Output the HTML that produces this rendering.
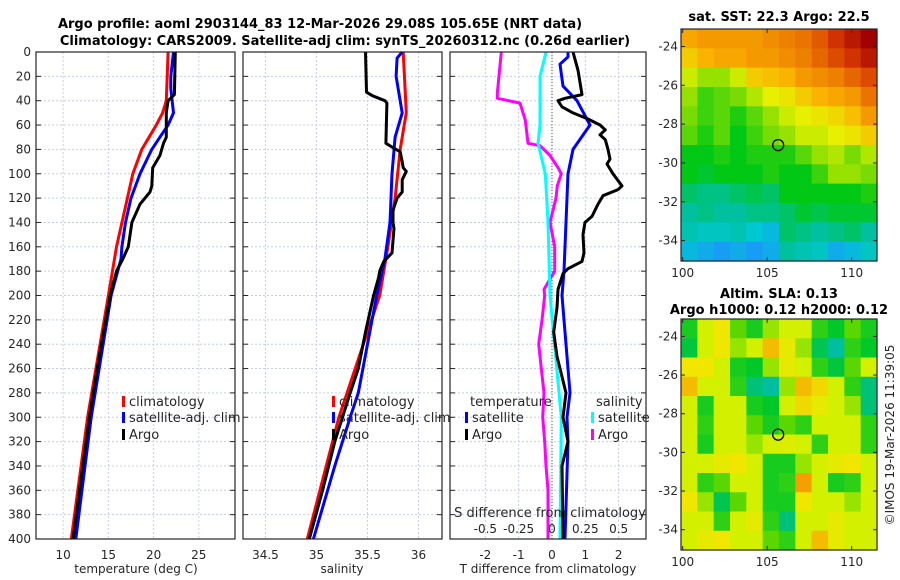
<!DOCTYPE html>
<html><head><meta charset="utf-8">
<style>
body{margin:0;background:#fff;}
svg{display:block;font-family:"DejaVu Sans","Liberation Sans",sans-serif;}
.tk{font-size:12px;fill:#262626;}
.lg{font-size:13px;fill:#262626;}
.tt{font-size:13px;font-weight:bold;fill:#000;}
</style></head>
<body>
<svg id="c" width="900" height="580" viewBox="0 0 900 580">
<text class="tt" x="320" y="28" text-anchor="middle">Argo profile: aoml 2903144_83 12-Mar-2026 29.08S 105.65E (NRT data)</text>
<text class="tt" x="345" y="45" text-anchor="middle">Climatology: CARS2009. Satellite-adj clim: synTS_20260312.nc (0.26d earlier)</text>
<text class="tt" x="779" y="21" text-anchor="middle">sat. SST: 22.3 Argo: 22.5</text>
<text class="tt" x="779" y="298" text-anchor="middle">Altim. SLA: 0.13</text>
<text class="tt" x="779" y="314" text-anchor="middle">Argo h1000: 0.12 h2000: 0.12</text>
<text class="tk" transform="translate(894,435) rotate(-90)" text-anchor="middle">©IMOS 19-Mar-2026 11:39:05</text>
</svg>
<script>
// ---- profile data (depth in m) ----
const tClimDepth=[0,40,50,60,80,100,120,160,200,300,400];
const tClimVal=[21.6,21.4,21.0,20.3,18.7,17.7,17.1,15.9,15.0,12.7,10.9];
const tSatDepth=[0,20,30,50,60,70,80,100,120,140,160,170,200,300,400];
const tSatVal=[22.2,21.9,21.9,22.2,21.6,20.7,19.8,18.5,17.5,16.9,16.5,16.4,15.3,13.1,11.4];
const tArgoDepth=[0,35,40,50,70,75,85,95,110,115,125,140,160,170,180,200,250,300,350,400];
const tArgoVal=[22.4,22.3,21.6,21.4,21.4,21.1,20.7,19.9,19.8,19.6,18.5,17.6,17.2,16.6,15.9,15.2,14.0,12.9,12.0,11.1];
const sClimDepth=[0,50,60,80,120,160,200,300,400];
const sClimVal=[35.85,35.88,35.86,35.82,35.77,35.70,35.62,35.22,34.91];
const sSatDepth=[0,5,20,50,70,100,140,170,200,280,300,340,400];
const sSatVal=[35.84,35.79,35.78,35.84,35.77,35.74,35.72,35.67,35.59,35.41,35.33,35.18,34.97];
const sArgoDepth=[0,33,36,40,42,75,78,82,90,95,98,105,115,120,130,140,145,165,172,180,185,200,230,260,280,320,360,400];
const sArgoVal=[35.48,35.49,35.55,35.67,35.69,35.68,35.74,35.82,35.84,35.85,35.88,35.84,35.84,35.79,35.75,35.75,35.76,35.74,35.66,35.62,35.61,35.56,35.48,35.41,35.33,35.18,35.06,34.93];
const dTSatDepth=[0,4,10,28,40,60,80,100,120,140,160,180,200,260,280,300,320,400];
const dTSatVal=[0.48,0.48,0.24,0.33,0.75,1.14,0.63,0.48,0.45,0.42,0.39,0.36,0.30,0.48,0.54,0.45,0.48,0.39];
const dTArgoDepth=[0,15,35,38,40,45,50,55,60,64,68,72,80,88,92,100,110,113,118,125,135,140,150,165,172,178,182,195,210,230,250,280,300,320,340,400];
const dTArgoVal=[0.63,0.78,0.9,0.39,0.18,0.3,0.63,1.08,1.44,1.6,1.44,1.6,1.68,1.74,1.65,1.83,2.1,1.98,1.53,1.38,1.2,0.99,0.93,0.96,0.9,0.48,0.33,0.18,0.15,0.05,0.15,0.42,0.33,0.48,0.3,0.33];
const dSSatDepth=[0,20,60,75,100,140,200,300,400];
const dSSatVal=[-0.045,-0.09,-0.09,-0.105,-0.05,-0.03,-0.015,0.07,0.06];
const dSArgoDepth=[0,34,38,42,56,75,77,85,95,100,110,120,140,160,180,195,200,220,240,260,280,300,320,340,360,400];
const dSArgoVal=[-0.38,-0.41,-0.41,-0.24,-0.2,-0.18,-0.09,-0.015,0.045,0.07,0.04,0.03,-0.015,0.02,0.02,-0.06,-0.055,-0.075,-0.1,-0.08,-0.06,-0.07,-0.055,-0.045,-0.03,-0.03];
// ---- map data ----
const sstGrid=[
[22.9,23,23,23,23,23.1,23.2,23.3,23.5,23.8,24,24.2],
[22.6,22.8,22.9,22.9,23,23,23.1,23.2,23.4,23.6,23.8,24],
[22.2,22,22,22.2,22.6,22.7,22.8,23,23.1,23.2,23.4,23.6],
[22,21.7,21.8,21.9,22.1,22.3,22.4,22.6,22.8,22.9,23,23.3],
[21.9,21.7,21.8,21.6,21.8,22.0,22.2,22.3,22.4,22.5,22.7,23],
[21.8,21.6,21.8,21.5,21.7,21.9,22.0,22.2,22.2,22.3,22.4,22.6],
[21.5,21.5,21.6,21.5,21.6,21.6,21.6,21.8,22.0,22.1,21.9,22.1],
[21.5,21.4,21.5,21.5,21.5,21.6,21.5,21.5,21.7,22.0,22.0,21.9],
[21.2,21.1,21.1,21.2,21.3,21.2,21.5,21.5,21.5,21.5,21.5,21.6],
[21.0,21.1,21.0,21.0,21.1,21.1,21.2,21.4,21.3,21.4,21.4,21.4],
[20.9,20.8,20.8,20.9,20.7,20.6,21.2,21.1,21.0,21.1,21.2,21.0],
[20.6,20.5,20.4,20.5,20.4,20.5,21.0,20.9,20.8,20.5,20.6,20.8]];
const slaGrid=[
[0.05,0.12,0.15,0.08,0.05,0.1,0.12,0.12,0.06,0.04,0.08,0.05],
[0.03,0.12,0.15,0.1,0.12,0.18,0.14,0.1,0.02,-0.02,0.06,0.04],
[0.15,0.15,0.12,0.05,0.04,0.1,0.14,0.12,0.06,0.03,0.08,0.12],
[0.18,0.12,0.12,0.06,0.0,-0.02,0.1,0.18,0.16,0.12,0.06,0.0],
[0.12,0.05,0.12,0.12,0.05,0.04,0.12,0.16,0.14,0.12,0.1,0.0],
[0.12,0.06,0.12,0.12,0.08,0.05,0.08,0.06,0.12,0.12,0.12,0.06],
[0.12,0.05,0.12,0.12,0.1,0.12,0.13,0.12,0.06,0.12,0.12,0.06],
[0.12,0.12,0.14,0.15,0.12,0.05,0.05,0.1,0.12,0.14,0.15,0.12],
[0.12,0.06,0.08,0.12,0.12,0.05,0.06,0.2,0.12,0.05,0.06,0.12],
[0.15,0.1,0.02,0.08,0.12,0.05,0.05,0.15,0.12,0.12,0.1,0.12],
[0.12,0.12,0.06,0.12,0.14,0.06,0.0,0.12,0.12,0.14,0.12,0.12],
[0.12,0.14,0.15,0.12,0.12,0.08,0.06,0.12,0.18,0.14,0.12,0.12]];
const floatLon=105.65, floatLat=-29.08;
const depthTicks=[0,20,40,60,80,100,120,140,160,180,200,220,240,260,280,300,320,340,360,380,400];
const tTicks=[10,15,20,25], sTicks=[34.5,35,35.5,36], dTTicks=[-2,-1,0,1,2], dSTicks=[-0.5,-0.25,0,0.25,0.5];
const dSTickLabels=["-0.5","-0.25","0","0.25","0.5"];
const lonTicks=[100,105,110], latTicks=[-24,-26,-28,-30,-32,-34];

const NS="http://www.w3.org/2000/svg", svg=document.getElementById('c');
function mk(tag,at,parent){const e=document.createElementNS(NS,tag);for(const k in at)e.setAttribute(k,at[k]);(parent||svg).appendChild(e);return e;}
const Y0=52,Y1=539;
const yD=d=>Y0+(Y1-Y0)*d/400;
function panel(x0,x1,vmin,vmax,ticks,name){
  const xf=v=>x0+(x1-x0)*(v-vmin)/(vmax-vmin);
  const g=mk('g',{});
  
  
  ticks.forEach(t=>{const l=mk('line',{x1:xf(t),x2:xf(t),y1:Y0,y2:Y1,stroke:'#c8cde6','stroke-width':1,'stroke-dasharray':'2,2'},g);
    });
  depthTicks.forEach(d=>{const l=mk('line',{x1:x0,x2:x1,y1:yD(d),y2:yD(d),stroke:'#c8cde6','stroke-width':1,'stroke-dasharray':'2,2'},g);
    
    mk('line',{x1:x0,x2:x0+5,y1:yD(d),y2:yD(d),stroke:'#262626'},g);mk('line',{x1:x1-5,x2:x1,y1:yD(d),y2:yD(d),stroke:'#262626'},g);});
  return {xf,g};
}
function line(p,ds,vs,color,name){
  const pts=ds.map((d,i)=>p.xf(vs[i]).toFixed(1)+','+yD(d).toFixed(1)).join(' ');
  const e=mk('polyline',{points:pts,fill:'none',stroke:color,'stroke-width':3,'stroke-linejoin':'round'},p.g);
  
  
}
function frame(x0,x1,name){const r=mk('rect',{x:x0,y:Y0,width:x1-x0,height:Y1-Y0,fill:'none',stroke:'#262626','stroke-width':1.2});
  }
function txt(x,y,s,cls,anchor,name){const t=mk('text',{x,y,class:cls,'text-anchor':anchor||'middle'});t.textContent=s;
  return t;}

const p1=panel(36,235,7,29,tTicks,'temperature-panel');
line(p1,tClimDepth,tClimVal,'#ff0000','temp-climatology-line');
line(p1,tSatDepth,tSatVal,'#0000ff','temp-satellite-line');
line(p1,tArgoDepth,tArgoVal,'#000000','temp-argo-line');
frame(36,235,'temperature-axes');
depthTicks.forEach(d=>txt(31,yD(d)+4,String(d),'tk','end','depth-tick-label'));
tTicks.forEach(t=>txt(p1.xf(t),559,String(t),'tk','middle','temp-tick-label'));
txt(136,573,'temperature (deg C)','tk','middle','temp-x-axis-title');

const p2=panel(243,442,34.28,36.23,sTicks,'salinity-panel');
line(p2,sClimDepth,sClimVal,'#ff0000','sal-climatology-line');
line(p2,sSatDepth,sSatVal,'#0000ff','sal-satellite-line');
line(p2,sArgoDepth,sArgoVal,'#000000','sal-argo-line');
frame(243,442,'salinity-axes');
sTicks.forEach(t=>txt(p2.xf(t),559,String(t),'tk','middle','sal-tick-label'));
txt(342,573,'salinity','tk','middle','sal-x-axis-title');

const p3=panel(450,646,-3.06,2.82,dTTicks,'difference-panel');
const p3s={xf:v=>p3.xf(v*4),g:p3.g};
mk('line',{x1:p3.xf(0),x2:p3.xf(0),y1:Y0,y2:Y1,stroke:'#555','stroke-dasharray':'1,2'},p3.g);
line(p3s,dSArgoDepth,dSArgoVal,'#ff00ff','dsal-argo-line');
line(p3s,dSSatDepth,dSSatVal,'#00ffff','dsal-satellite-line');
line(p3,dTSatDepth,dTSatVal,'#0000ff','dtemp-satellite-line');
line(p3,dTArgoDepth,dTArgoVal,'#000000','dtemp-argo-line');
frame(450,646,'difference-axes');
dTTicks.forEach(t=>txt(p3.xf(t),559,String(t),'tk','middle','dtemp-tick-label'));
dSTicks.forEach((t,i)=>txt(p3s.xf(t),533,dSTickLabels[i],'tk','middle','dsal-tick-label'));
txt(550,517,'S difference from climatology','lg','middle','dsal-axis-title');
txt(548,573,'T difference from climatology','tk','middle','dtemp-x-axis-title');

function legItem(x,y,color,label,name){const r=mk('rect',{x:x,y:y-10,width:3,height:11,fill:color});
  
  txt(x+7,y,label,'lg','start',name);}
legItem(122,406,'#ff0000','climatology','legend-climatology');
legItem(122,422,'#0000ff','satellite-adj. clim','legend-satellite');
legItem(122,439,'#000000','Argo','legend-argo');
legItem(332,406,'#ff0000','climatology','legend2-climatology');
legItem(332,422,'#0000ff','satellite-adj. clim','legend2-satellite');
legItem(332,439,'#000000','Argo','legend2-argo');
txt(470,406,'temperature','lg','start','legend3-temperature-header');
txt(596,406,'salinity','lg','start','legend3-salinity-header');
legItem(465,422,'#0000ff','satellite','legend3-t-satellite');
legItem(465,439,'#000000','Argo','legend3-t-argo');
legItem(591,422,'#00ffff','satellite','legend3-s-satellite');
legItem(591,439,'#ff00ff','Argo','legend3-s-argo');

function cmap(stops,v){if(v<=stops[0][0])return 'rgb('+stops[0][1].join(',')+')';
  for(let i=1;i<stops.length;i++){if(v<=stops[i][0]){const a=stops[i-1],b=stops[i],f=(v-a[0])/(b[0]-a[0]);
    return 'rgb('+a[1].map((c,k)=>Math.round(c+(b[1][k]-c)*f)).join(',')+')';}}
  return 'rgb('+stops[stops.length-1][1].join(',')+')';}
const sstStops=[[20.3,[30,144,255]],[20.7,[0,200,210]],[21.0,[0,192,160]],[21.5,[0,200,20]],[22.0,[150,225,0]],[22.3,[230,240,0]],[22.8,[250,180,0]],[23.3,[235,115,0]],[23.8,[210,50,0]],[24.2,[160,0,0]]];
const slaStops=[[-0.02,[0,190,160]],[0.04,[0,200,40]],[0.08,[90,215,0]],[0.12,[210,240,0]],[0.15,[240,230,0]],[0.2,[245,160,0]]];
function map(x0,x1,y0,y1,latTop,latBot,grid,stops,name){
  const lonL=99.9,lonR=111.5;
  const xf=l=>x0+(x1-x0)*(l-lonL)/(lonR-lonL), yf=a=>y0+(y1-y0)*(latTop-a)/(latTop-latBot);
  const g=mk('g',{});
  const nr=grid.length,nc=grid[0].length,cw=(x1-x0)/nc,rh=(y1-y0)/nr;
  grid.forEach((row,i)=>row.forEach((v,j)=>{const r=mk('rect',{x:x0+j*cw,y:y0+i*rh,width:cw+0.6,height:rh+0.6,fill:cmap(stops,v)},g);
    }));
  const f=mk('rect',{x:x0,y:y0,width:x1-x0,height:y1-y0,fill:'none',stroke:'#262626','stroke-width':1.2},g);
  
  lonTicks.forEach(l=>{mk('line',{x1:xf(l),x2:xf(l),y1:y1,y2:y1-4,stroke:'#262626'},g);mk('line',{x1:xf(l),x2:xf(l),y1:y0,y2:y0+4,stroke:'#262626'},g);
    txt(xf(l),y1+16,String(l),'tk','middle','lon-tick-label');});
  latTicks.forEach(a=>{mk('line',{x1:x0,x2:x0+4,y1:yf(a),y2:yf(a),stroke:'#262626'},g);mk('line',{x1:x1,x2:x1-4,y1:yf(a),y2:yf(a),stroke:'#262626'},g);
    txt(x0-3,yf(a)+4,String(a),'tk','end','lat-tick-label');});
  const c=mk('circle',{cx:xf(floatLon),cy:yf(floatLat),r:5.5,fill:'none',stroke:'#000','stroke-width':1.3},g);
  
}
map(681,877,29,261,-23.1,-35.05,sstGrid,sstStops,'sst-map');
map(681,877,319,550,-23.1,-35.05,slaGrid,slaStops,'sla-map');
</script>
</body></html>
